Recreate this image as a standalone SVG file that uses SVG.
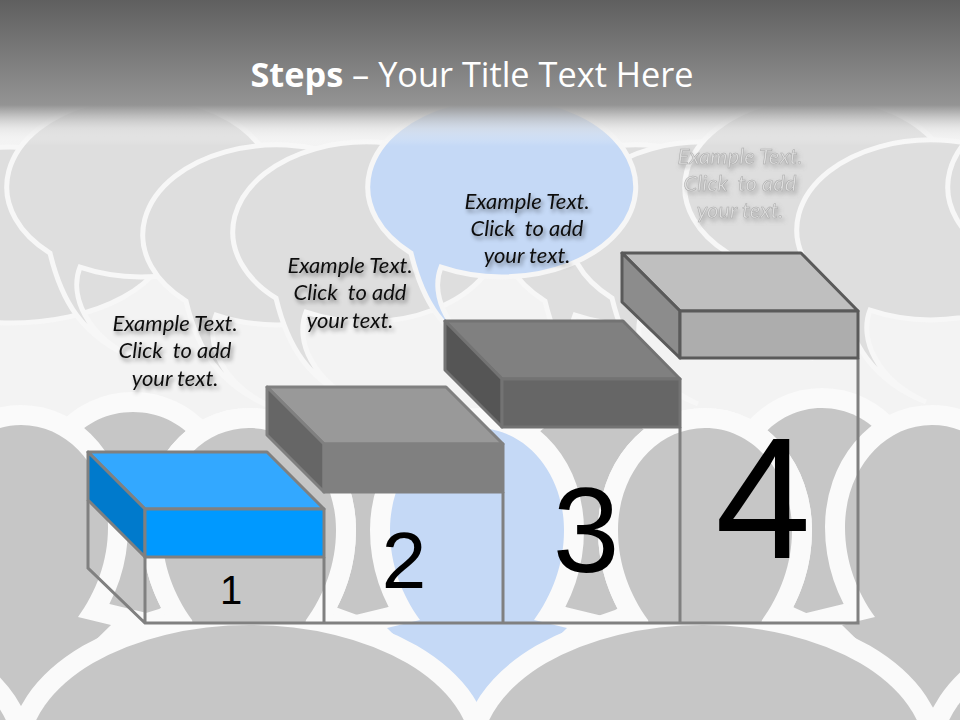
<svg xmlns="http://www.w3.org/2000/svg" width="960" height="720" viewBox="0 0 960 720">
<style>
.b{fill:#dedede;stroke:#f7f7f7;stroke-width:5;stroke-linejoin:miter}
.bl{fill:#c5d9f6;stroke:#f6f6f6;stroke-width:5}
.h{fill:#c6c6c6;stroke:#fafafa;stroke-width:40;stroke-linejoin:miter;paint-order:stroke}
.hb{fill:#c5d9f6;stroke:#fafafa;stroke-width:40;stroke-linejoin:miter;paint-order:stroke}
.f{fill:none;stroke:#808080;stroke-width:3}
.t{font-family:"Lato","Liberation Sans",sans-serif;font-style:italic;font-size:22px;text-anchor:middle;fill:#111;filter:url(#sh)}
.t4{font-family:"Lato","Liberation Sans",sans-serif;font-style:italic;font-size:22px;text-anchor:middle;fill:#dedede;stroke:#a8a8a8;stroke-width:.5;filter:url(#sh2)}
.n{font-family:"Liberation Sans",Arial,sans-serif;text-anchor:middle;fill:#000}
.s{stroke-width:3;stroke-linejoin:round}
</style>
<defs>
<path id="bub" d="M-91,66.1C-80,112 -60,150 -5,172C-55,150 -72,108 -61,80.1A134 90 0 1 0 -91,66.1Z"/>
<path id="head" d="M-87,530C-87,475 -50,428 0,428C50,428 87,475 87,530C87,565 75,595 57,620L90,628L0,716L-90,628L-57,620C-75,595 -87,565 -87,530Z"/>
<path id="head2" d="M-87,530C-87,475 -50,428 0,428C50,428 87,475 87,530C87,565 75,595 57,620L50,650L-50,650L-57,620C-75,595 -87,565 -87,530Z"/>
<linearGradient id="top" gradientUnits="userSpaceOnUse" x1="0" y1="0" x2="0" y2="146">
<stop offset="0" stop-color="#5f5f5f"/>
<stop offset=".72" stop-color="#949494"/>
<stop offset=".77" stop-color="#a8a8a8" stop-opacity=".85"/>
<stop offset=".88" stop-color="#dddddd" stop-opacity=".5"/>
<stop offset="1" stop-color="#ffffff" stop-opacity="0"/>
</linearGradient>
<clipPath id="above"><rect x="0" y="0" width="960" height="624"/></clipPath>
<filter id="sh" x="-20%" y="-40%" width="140%" height="200%"><feDropShadow dx="2" dy="3" stdDeviation="2" flood-color="#000" flood-opacity=".45"/></filter>
<filter id="sh2" x="-20%" y="-40%" width="140%" height="200%"><feDropShadow dx="2" dy="3" stdDeviation="2" flood-color="#777" flood-opacity=".5"/></filter>
</defs>

<rect id="bg" width="960" height="720" fill="#f3f3f3"/>

<g id="top-bubbles">
<ellipse class="b" cx="10" cy="235" rx="160" ry="88"/>
<use href="#bub" class="b" transform="translate(141,187)"/>
<use href="#bub" class="b" transform="translate(277,235)"/>
<use href="#bub" class="b" transform="translate(367,232)"/>
<use href="#bub" class="b" transform="translate(636,235)"/>
<use href="#bub" class="b" transform="translate(703,232)"/>
<use href="#bub" class="b" transform="translate(819,187)"/>
<use href="#bub" class="b" transform="translate(931,230)"/>
<use href="#bub" class="b" transform="translate(1082,187)"/>
<use href="#bub" class="bl" transform="translate(502,187)"/>
</g>

<g id="back-heads">
<path class="h" d="M46,510C46,455 83,412 133,412C183,412 220,455 220,510C220,550 195,590 159,609L133,617L109,608C75,590 46,550 46,510Z"/>
<path class="h" d="M274,510C274,455 311,412 361,412C411,412 448,455 448,510C448,550 423,590 387,608L360,616L338,608C303,590 274,550 274,510Z"/>
<path class="h" d="M506,510C506,455 543,412 593,412C643,412 680,455 680,510C680,550 655,590 615,610L595,617L567,608C535,590 506,550 506,510Z"/>
<path class="h" d="M735,510C735,455 772,408 822,408C872,408 909,455 909,510C909,550 884,590 843,609L815,617L795,608C762,590 735,550 735,510Z"/>
</g>

<g id="front-heads">
<use href="#head" class="h" transform="translate(21,-3)"/>
<use href="#head" class="hb" transform="translate(477,0)"/>
<use href="#head" class="h" transform="translate(932,-3)"/>
<use href="#head2" class="h" transform="translate(249,0)"/>
<use href="#head2" class="h" transform="translate(705,0)"/>
</g>

<g id="big-bubbles">
<ellipse class="h" cx="-208" cy="755" rx="222" ry="130"/>
<ellipse class="h" cx="250" cy="755" rx="222" ry="130"/>
<ellipse class="h" cx="703" cy="755" rx="222" ry="130"/>
<ellipse class="h" cx="1163" cy="755" rx="222" ry="130"/>
</g>

<g id="front-heads-over" clip-path="url(#above)">
<use href="#head2" class="h" transform="translate(249,0)"/>
<use href="#head2" class="h" transform="translate(705,0)"/>
</g>

<rect id="title-band" width="960" height="146" fill="url(#top)"/>
<text id="title" x="472" y="87" text-anchor="middle" font-family="'Open Sans','Noto Sans',sans-serif" font-size="34.3" fill="#fff"><tspan font-weight="700">Steps</tspan> – Your Title Text Here</text>

<g id="connectors">
<path class="f" d="M88,500V568L145,623H858V358M145,557V623M324,557V623M503,492V623M680,427V623"/>
</g>

<g id="step-4">
<path class="s" fill="#bfbfbf" stroke="#5a5a5a" d="M622,253H801L858,311H680Z"/>
<path class="s" fill="#8c8c8c" stroke="#5a5a5a" d="M622,253L680,311V358L622,302Z"/>
<path class="s" fill="#adadad" stroke="#5a5a5a" d="M680,311H858V358H680Z"/>
<text class="n" x="763" y="558" font-size="172">4</text>
<text class="t4" xml:space="preserve"><tspan x="740" y="164">Example Text.</tspan><tspan x="740" y="191">Click  to add</tspan><tspan x="740" y="218">your text.</tspan></text>
</g>
<g id="step-3">
<path class="s" fill="#808080" stroke="#737373" d="M445,321H623L680,379H502Z"/>
<path class="s" fill="#555555" stroke="#737373" d="M445,321L502,379V427L445,370Z"/>
<path class="s" fill="#666666" stroke="#737373" d="M502,379H680V427H502Z"/>
<text class="n" x="586" y="572" font-size="120">3</text>
<text class="t" xml:space="preserve"><tspan x="527" y="209">Example Text.</tspan><tspan x="527" y="236">Click  to add</tspan><tspan x="527" y="263">your text.</tspan></text>
</g>
<g id="step-2">
<path class="s" fill="#999999" stroke="#808080" d="M267,387H446L503,444H324Z"/>
<path class="s" fill="#666666" stroke="#808080" d="M267,387L324,444V492L267,435Z"/>
<path class="s" fill="#808080" stroke="#808080" d="M324,444H503V492H324Z"/>
<text class="n" x="404" y="588" font-size="80">2</text>
<text class="t" xml:space="preserve"><tspan x="350" y="273">Example Text.</tspan><tspan x="350" y="300">Click  to add</tspan><tspan x="350" y="328">your text.</tspan></text>
</g>
<g id="step-1">
<path class="s" fill="#33a8ff" stroke="#808080" d="M88,452H267L324,509H145Z"/>
<path class="s" fill="#007acc" stroke="#808080" d="M88,452L145,509V557L88,500Z"/>
<path class="s" fill="#0099ff" stroke="#808080" d="M145,509H324V557H145Z"/>
<text class="n" x="231" y="604" font-size="40">1</text>
<text class="t" xml:space="preserve"><tspan x="175" y="331">Example Text.</tspan><tspan x="175" y="358">Click  to add</tspan><tspan x="175" y="386">your text.</tspan></text>
</g>
</svg>
